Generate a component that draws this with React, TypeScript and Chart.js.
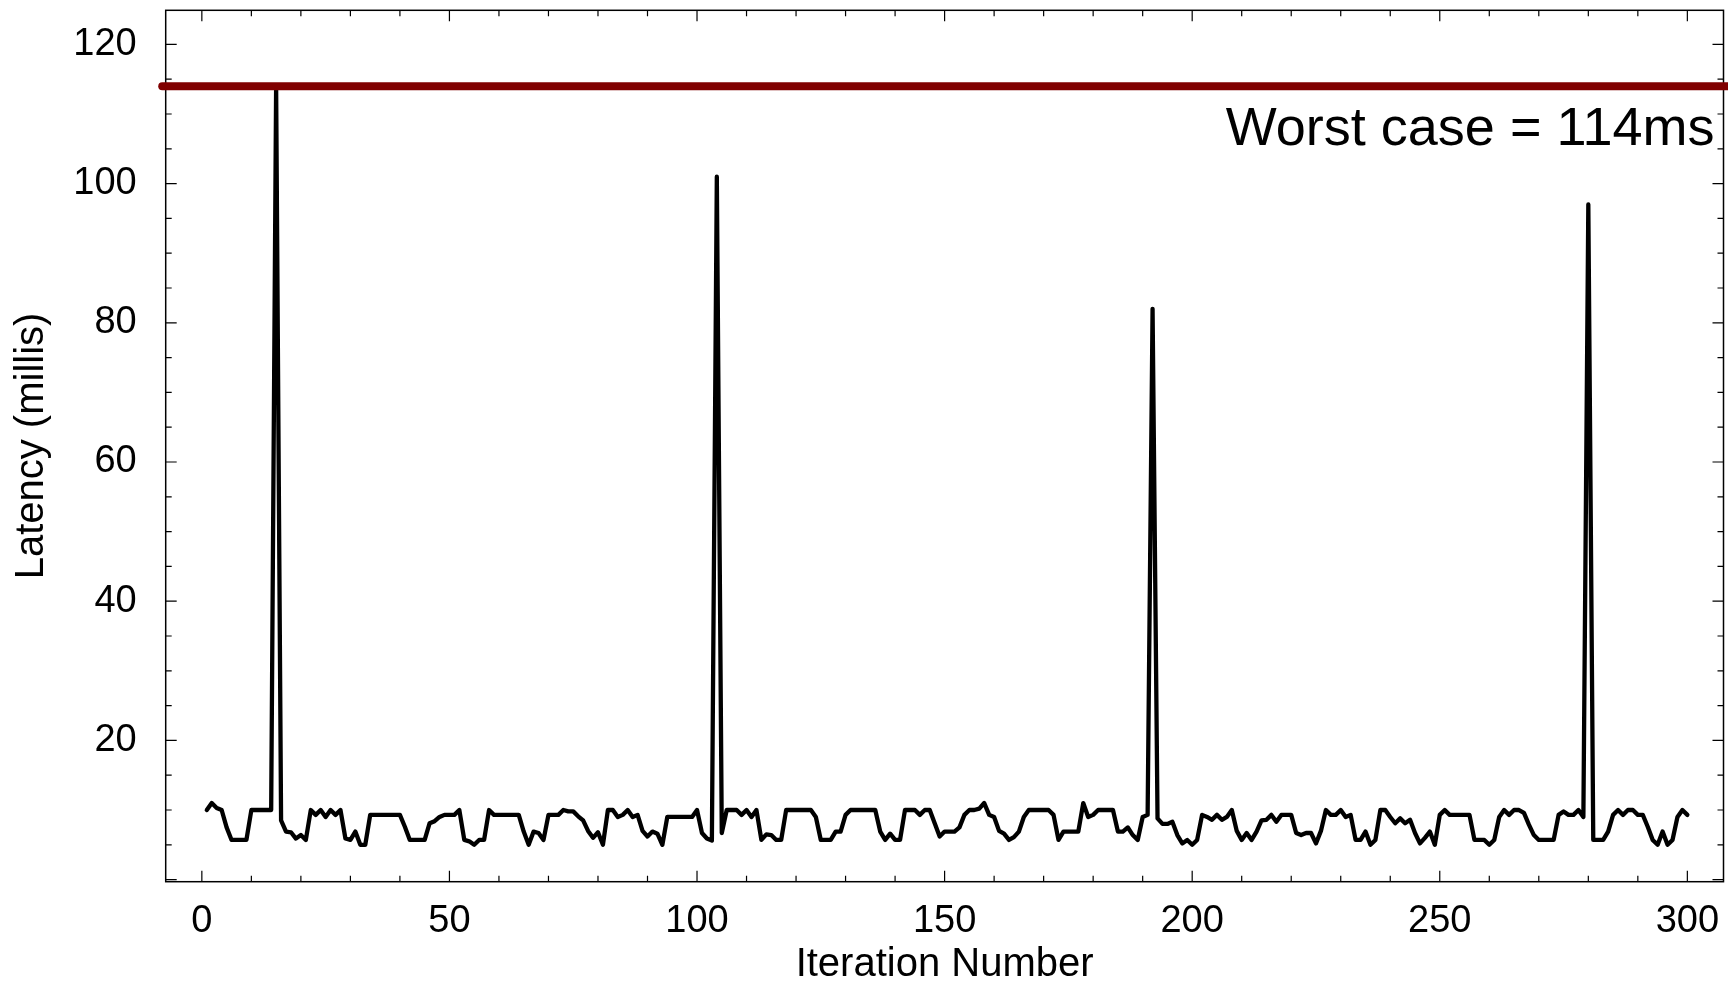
import React, { useEffect, useRef } from "react";
import { Chart, registerables } from "chart.js";

Chart.register(...registerables);

// Latency (ms) per iteration, iterations start at 1
const FIRST_ITERATION = 1;
const LATENCY_MS = [
  10.0, 11.0, 10.3, 10.0, 7.5, 5.7, 5.7, 5.7, 5.7, 10.0,
  10.0, 10.0, 10.0, 10.0, 114, 8.5, 6.9, 6.8, 5.9, 6.4,
  5.7, 10.0, 9.3, 10.0, 9.0, 10.0, 9.3, 10.0, 5.9, 5.7,
  6.9, 5.0, 5.0, 9.3, 9.3, 9.3, 9.3, 9.3, 9.3, 9.3,
  7.6, 5.7, 5.7, 5.7, 5.7, 8.1, 8.4, 9.0, 9.3, 9.3,
  9.3, 10.0, 5.7, 5.5, 5.0, 5.7, 5.7, 10.0, 9.3, 9.3,
  9.3, 9.3, 9.3, 9.3, 6.9, 5.0, 6.9, 6.7, 5.7, 9.3,
  9.3, 9.3, 10.0, 9.8, 9.8, 9.1, 8.5, 7.0, 6.0, 6.8,
  5.0, 10.0, 10.0, 9.0, 9.3, 10.0, 9.0, 9.3, 7.0, 6.2,
  6.9, 6.6, 5.0, 9.0, 9.0, 9.0, 9.0, 9.0, 9.0, 10.0,
  6.7, 5.9, 5.6, 101, 6.7, 10.0, 10.0, 10.0, 9.3, 10.0,
  9.0, 10.0, 5.7, 6.5, 6.4, 5.7, 5.7, 10.0, 10.0, 10.0,
  10.0, 10.0, 10.0, 9.0, 5.7, 5.7, 5.7, 6.9, 6.9, 9.3,
  10.0, 10.0, 10.0, 10.0, 10.0, 10.0, 6.9, 5.7, 6.6, 5.7,
  5.7, 10.0, 10.0, 10.0, 9.3, 10.0, 10.0, 8.1, 6.2, 6.9,
  6.9, 6.9, 7.5, 9.3, 10.0, 10.0, 10.2, 11.0, 9.3, 9.0,
  7.0, 6.6, 5.7, 6.1, 6.9, 9.0, 10.0, 10.0, 10.0, 10.0,
  10.0, 9.3, 5.7, 6.9, 6.9, 6.9, 6.9, 11.0, 9.0, 9.3,
  10.0, 10.0, 10.0, 10.0, 6.9, 6.9, 7.5, 6.4, 5.7, 9.0,
  9.3, 82, 8.8, 8.0, 8.0, 8.3, 6.4, 5.2, 5.7, 5.0,
  5.7, 9.3, 9.0, 8.6, 9.3, 8.6, 9.0, 10.0, 7.0, 5.7,
  6.7, 5.7, 6.9, 8.5, 8.6, 9.3, 8.3, 9.3, 9.3, 9.3,
  6.7, 6.4, 6.7, 6.7, 5.2, 7.0, 10.0, 9.3, 9.3, 10.0,
  9.0, 9.3, 5.7, 5.7, 6.9, 5.0, 5.7, 10.0, 10.0, 9.0,
  8.1, 8.8, 8.1, 8.6, 6.7, 5.2, 6.0, 6.9, 5.0, 9.3,
  10.0, 9.3, 9.3, 9.3, 9.3, 9.3, 5.7, 5.7, 5.7, 5.0,
  5.7, 9.0, 10.0, 9.3, 10.0, 10.0, 9.6, 7.9, 6.4, 5.7,
  5.7, 5.7, 5.7, 9.3, 9.8, 9.3, 9.3, 10.0, 9.0, 97,
  5.7, 5.7, 5.7, 6.9, 9.3, 10.0, 9.3, 10.0, 10.0, 9.3,
  9.3, 7.6, 5.7, 5.0, 6.9, 5.0, 5.7, 9.0, 10.0, 9.3,
];

const WORST_CASE_MS = 114;
const WORST_CASE_LINE_X = [-8.0, 330];
const WORST_CASE_LABEL = "Worst case = 114ms";
const X_TITLE = "Iteration Number";
const Y_TITLE = "Latency (millis)";
const X_MIN = -7.3;
const X_MAX = 307.3;
const Y_MIN = -0.3;
const Y_MAX = 124.9;
const X_TICK_STEP = 10;
const X_LABEL_STEP = 50;
const Y_TICK_STEP = 5;
const Y_LABEL_STEP = 20;

const FONT = '"Liberation Sans", Arial, Helvetica, sans-serif';

export default function App() {
  const ref = useRef<HTMLCanvasElement | null>(null);

  useEffect(() => {
    document.body.style.margin = "0";
    const canvas = ref.current;
    if (!canvas) return;

    const points = LATENCY_MS.map((v, i) => ({ x: FIRST_ITERATION + i, y: v }));
    const worstLine = WORST_CASE_LINE_X.map((x) => ({ x, y: WORST_CASE_MS }));

    const framePlugin = {
      id: "frameTicks",
      beforeDatasetsDraw(chart: any) {
        const { ctx, chartArea: a, scales } = chart;
        ctx.save();
        ctx.strokeStyle = "#000";
        ctx.lineWidth = 1.5;
        ctx.strokeRect(a.left, a.top, a.right - a.left, a.bottom - a.top);
        ctx.lineWidth = 1.2;
        ctx.beginPath();
        for (const t of scales.x.ticks) {
          const p = scales.x.getPixelForValue(t.value);
          const len = t.value % X_LABEL_STEP === 0 ? 11 : 6;
          ctx.moveTo(p, a.bottom);
          ctx.lineTo(p, a.bottom - len);
          ctx.moveTo(p, a.top);
          ctx.lineTo(p, a.top + len);
        }
        for (const t of scales.y.ticks) {
          const p = scales.y.getPixelForValue(t.value);
          const len = t.value % Y_LABEL_STEP === 0 ? 11 : 6;
          ctx.moveTo(a.left, p);
          ctx.lineTo(a.left + len, p);
          ctx.moveTo(a.right, p);
          ctx.lineTo(a.right - len, p);
        }
        ctx.stroke();
        ctx.restore();
      },
      afterDraw(chart: any) {
        const { ctx, chartArea: a, scales } = chart;
        ctx.save();
        ctx.fillStyle = "#000";
        ctx.font = `54px ${FONT}`;
        ctx.textAlign = "right";
        ctx.textBaseline = "alphabetic";
        ctx.fillText(WORST_CASE_LABEL, a.right - 9, scales.y.getPixelForValue(WORST_CASE_MS) + 58.5);
        ctx.restore();
      },
    };

    const chart = new Chart(canvas, {
      type: "line",
      data: {
        datasets: [
          {
            data: worstLine,
            borderColor: "#800000",
            borderWidth: 8,
            borderCapStyle: "round",
            pointRadius: 0,
            clip: false as any,
            order: 0,
          },
          {
            data: points,
            borderColor: "#000",
            borderWidth: 4.3,
            borderJoinStyle: "round",
            borderCapStyle: "round",
            pointRadius: 0,
            tension: 0,
            order: 1,
          },
        ],
      },
      options: {
        animation: false,
        responsive: false,
        devicePixelRatio: 1,
        parsing: false as any,
        layout: { padding: { top: 10.3, right: 4.5, bottom: 0, left: 0 } },
        plugins: { legend: { display: false }, tooltip: { enabled: false } },
        scales: {
          x: {
            type: "linear",
            min: X_MIN,
            max: X_MAX,
            afterFit: (s: any) => {
              s.height = 104.3;
              s.paddingLeft = 0;
              s.paddingRight = 0;
            },
            grid: { display: false, drawTicks: false },
            border: { display: false },
            ticks: {
              stepSize: X_TICK_STEP,
              autoSkip: false,
              includeBounds: false,
              maxRotation: 0,
              padding: 17,
              color: "#000",
              font: { family: FONT, size: 38 },
              callback: (v: any) => (Number(v) % X_LABEL_STEP === 0 ? String(v) : ""),
            },
            title: {
              display: true,
              text: X_TITLE,
              color: "#000",
              font: { family: FONT, size: 40, lineHeight: 1 },
              padding: { top: 0, bottom: 1 },
            },
          },
          y: {
            type: "linear",
            min: Y_MIN,
            max: Y_MAX,
            afterFit: (s: any) => {
              s.width = 165.7;
              s.paddingTop = 0;
              s.paddingBottom = 0;
            },
            grid: { display: false, drawTicks: false },
            border: { display: false },
            ticks: {
              stepSize: Y_TICK_STEP,
              autoSkip: false,
              includeBounds: false,
              padding: 29,
              color: "#000",
              font: { family: FONT, size: 38 },
              callback: (v: any) =>
                Number(v) % Y_LABEL_STEP === 0 && Number(v) !== 0 ? String(v) : "",
            },
            title: {
              display: true,
              text: Y_TITLE,
              color: "#000",
              font: { family: FONT, size: 40, lineHeight: 1 },
              padding: { top: 12, bottom: 0 },
            },
          },
        },
      },
      plugins: [framePlugin],
    });

    return () => chart.destroy();
  }, []);

  return (
    <div style={{ position: "fixed", left: 0, top: 0, width: 1728, height: 986, background: "#fff" }}>
      <canvas ref={ref} width={1728} height={986} style={{ display: "block", width: 1728, height: 986 }} />
    </div>
  );
}
